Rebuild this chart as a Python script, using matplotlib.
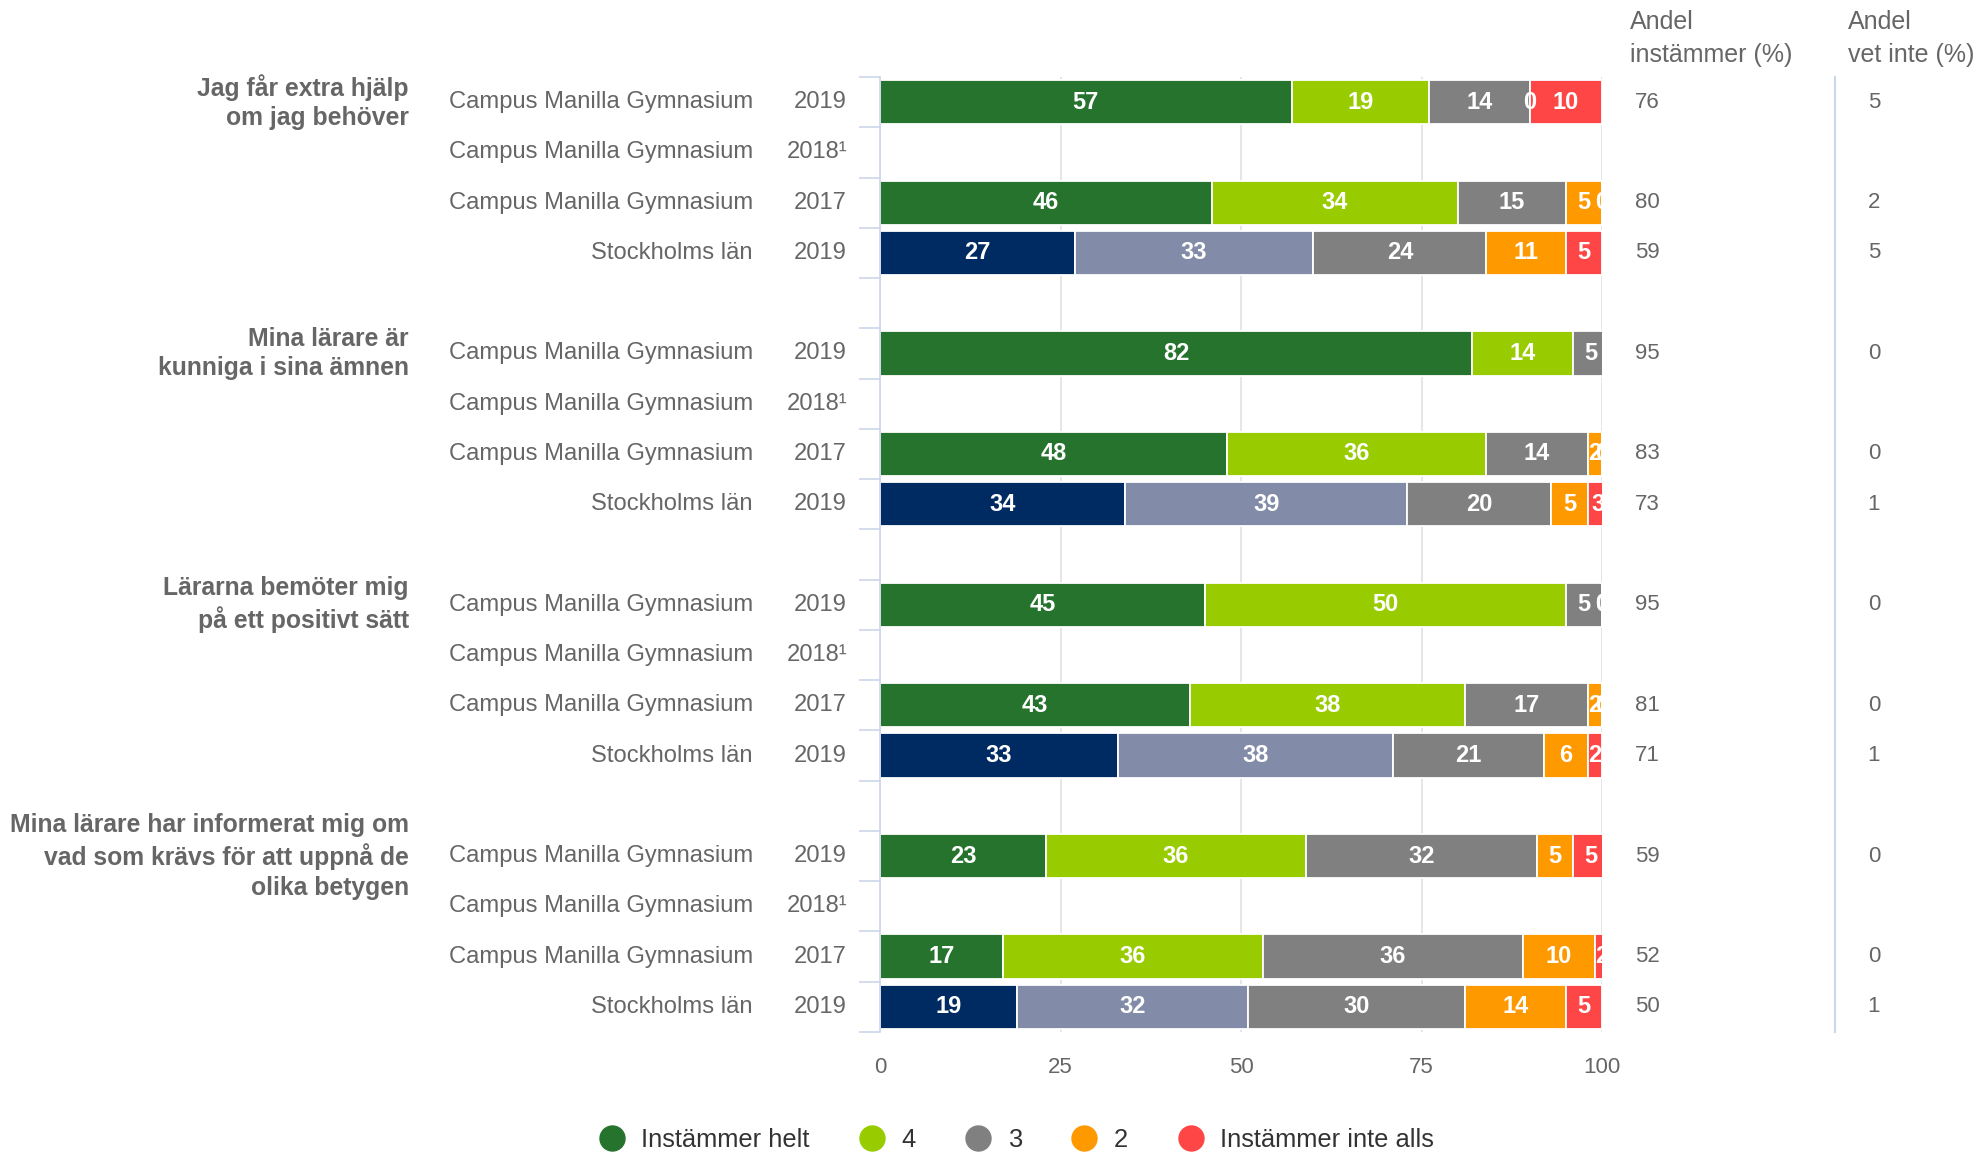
import numpy as np
import matplotlib
matplotlib.use('Agg')
import matplotlib.pyplot as plt
from matplotlib.lines import Line2D
from matplotlib.transforms import blended_transform_factory

plt.rcParams['font.family'] = ['Liberation Sans', 'DejaVu Sans']

# data (None = no data for 2018)
questions = [
    "Jag får extra hjälp\nom jag behöver",
    "Mina lärare är\nkunniga i sina ämnen",
    "Lärarna bemöter mig\npå ett positivt sätt",
    "Mina lärare har informerat mig om\nvad som krävs för att uppnå de\nolika betygen",
]
units = ["Campus Manilla Gymnasium", "Campus Manilla Gymnasium",
         "Campus Manilla Gymnasium", "Stockholms län"]
years = ["2019", "2018\u00b9", "2017", "2019"]

helt = [[57, None, 46, 27], [82, None, 48, 34], [45, None, 43, 33], [23, None, 17, 19]]
fyra = [[19, None, 34, 33], [14, None, 36, 39], [50, None, 38, 38], [36, None, 36, 32]]
tre = [[14, None, 15, 24], [5, None, 14, 20], [5, None, 17, 21], [32, None, 36, 30]]
tva = [[0, None, 5, 11], [0, None, 2, 5], [0, None, 2, 6], [5, None, 10, 14]]
inte_alls = [[10, None, 0, 5], [0, None, 0, 3], [0, None, 0, 2], [5, None, 2, 5]]

andel_instammer = [[76, None, 80, 59], [95, None, 83, 73], [95, None, 81, 71], [59, None, 52, 50]]
andel_vet_inte = [[5, None, 2, 5], [0, None, 0, 1], [0, None, 0, 1], [0, None, 0, 1]]

legend_labels = ["Instämmer helt", "4", "3", "2", "Instämmer inte alls"]
school_colors = ['#26732e', '#99cc00', '#808080', '#ff9900', '#ff4646']
region_colors = ['#002b62', '#828ca8', '#808080', '#ff9900', '#ff4646']

TXT = '#666666'
AXC = '#ccd6eb'

fig = plt.figure(figsize=(19.81, 11.52), dpi=100)
ax = fig.add_axes([880 / 1981, 1 - 1032 / 1152, 722 / 1981, 955 / 1152])

series = [helt, fyra, tre, tva, inte_alls]
n_rows = len(units)
slot = n_rows + 1
n_slots = len(questions) * slot - 1

trans_fy = blended_transform_factory(fig.transFigure, ax.transData)

for g, q in enumerate(questions):
    base = g * slot
    ax.text(409 / 1981, base, q, transform=trans_fy, ha='right', va='center',
            fontsize=17.8, fontweight='bold', color=TXT, linespacing=1.3)
    for r in range(n_rows):
        y = base + r
        ax.text(753 / 1981, y, units[r], transform=trans_fy, ha='right', va='center',
                fontsize=17.1, color=TXT)
        ax.text(847 / 1981, y, years[r], transform=trans_fy, ha='right', va='center',
                fontsize=17.1, color=TXT)
        if helt[g][r] is None:
            continue
        colors = region_colors if units[r] == "Stockholms län" else school_colors
        left = 0
        for s, vals in enumerate(series):
            v = vals[g][r]
            ax.barh(y, v, left=left, height=0.88, color=colors[s],
                    edgecolor='white', linewidth=1.3, zorder=2)
            ax.text(left + v / 2, y, str(v), ha='center', va='center',
                    fontsize=17, fontweight='bold', color='white',
                    zorder=3, clip_on=True)
            left += v
        ax.text(1635 / 1981, y, str(andel_instammer[g][r]), transform=trans_fy,
                ha='left', va='center', fontsize=16, color=TXT)
        ax.text(1874 / 1981, y, str(andel_vet_inte[g][r]), transform=trans_fy,
                ha='center', va='center', fontsize=16, color=TXT)

ax.set_xlim(0, 100)
ax.set_ylim(n_slots - 0.5, -0.5)
ax.set_xticks([0, 25, 50, 75, 100])
ax.set_yticks(np.arange(-0.5, n_slots, 1.0))
ax.set_yticklabels([])
ax.tick_params(axis='y', length=15, width=1.2, color=AXC, direction='out')
ax.tick_params(axis='x', length=0, pad=18, labelsize=16, labelcolor=TXT)
ax.grid(axis='x', color='#e6e6e6', linewidth=1.4)
ax.set_axisbelow(True)
for side in ['top', 'right', 'bottom']:
    ax.spines[side].set_visible(False)
ax.spines['left'].set_color(AXC)
ax.spines['left'].set_linewidth(1.2)

# column headers and separator
fig.text(1630 / 1981, 1 - 10 / 1152, "Andel\ninstämmer (%)", ha='left', va='top',
         fontsize=18, color=TXT, linespacing=1.45)
fig.text(1848 / 1981, 1 - 10 / 1152, "Andel\nvet inte (%)", ha='left', va='top',
         fontsize=18, color=TXT, linespacing=1.45)
fig.add_artist(Line2D([1835 / 1981, 1835 / 1981], [1 - 77 / 1152, 1 - 1032 / 1152],
                      color=AXC, linewidth=1.5, transform=fig.transFigure))

handles = [Line2D([], [], marker='o', linestyle='', markersize=18,
                  markerfacecolor=c, markeredgecolor=c) for c in school_colors]
fig.legend(handles, legend_labels, loc='center', bbox_to_anchor=(0.513, 1 - 1140 / 1152),
           ncol=5, frameon=False, fontsize=18.4, labelcolor='#333333',
           handlelength=1.0, handletextpad=0.65, columnspacing=1.95)

fig.savefig('out.png', dpi=100)
